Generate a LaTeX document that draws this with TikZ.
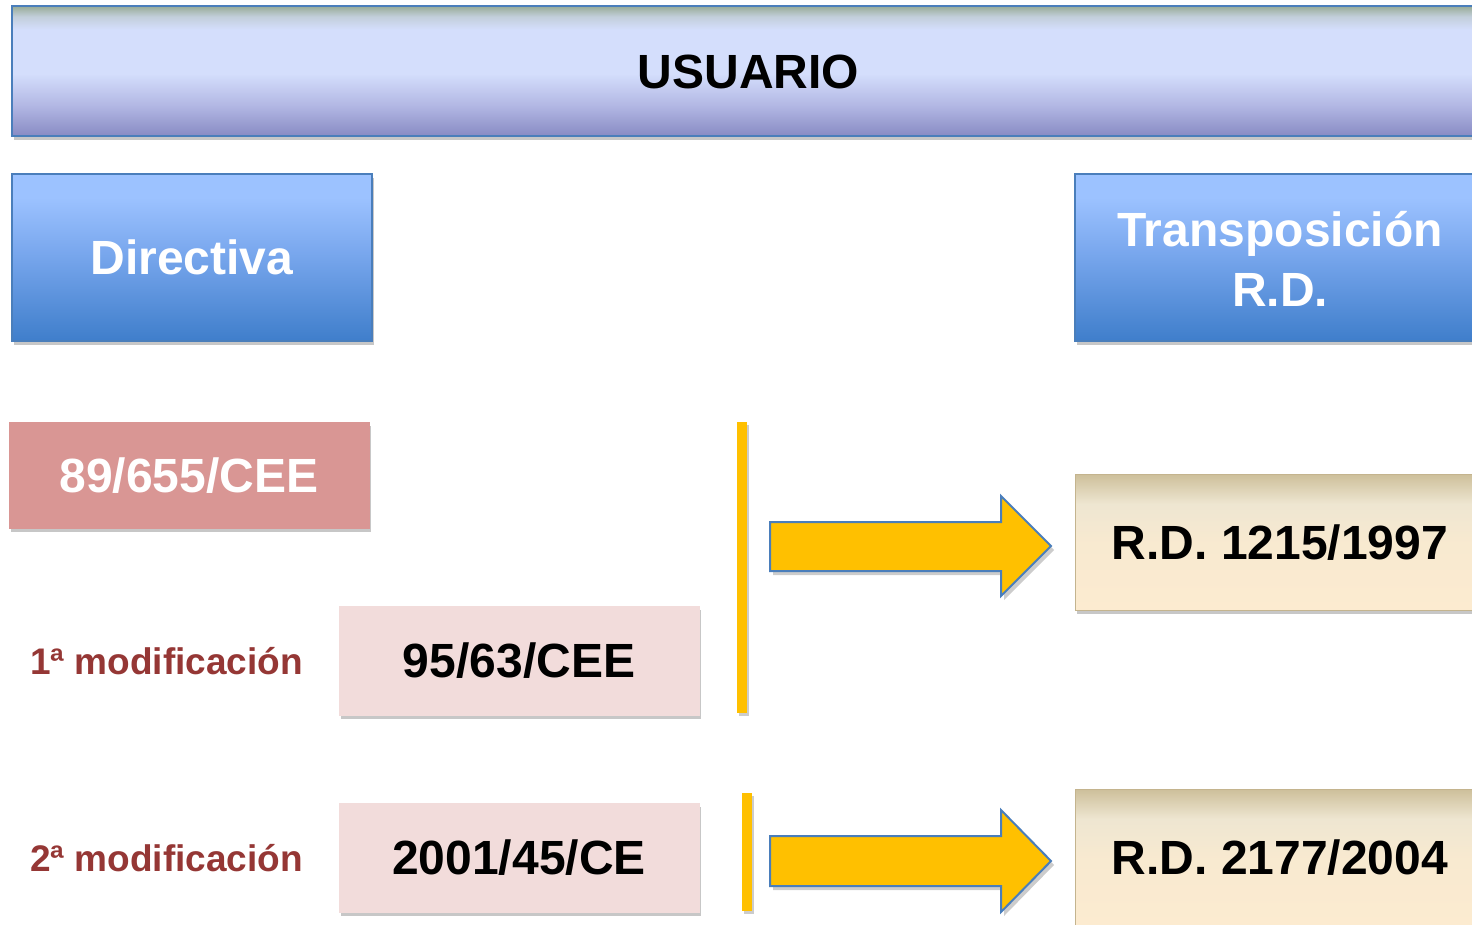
\documentclass[tikz,border=0pt]{standalone}
\usepackage{fontspec}
\setmainfont{Liberation Sans}
\usetikzlibrary{shadows}
\definecolor{bordblue}{HTML}{4A7EBB}
\definecolor{uBot}{HTML}{888BC4}
\definecolor{uMid}{HTML}{B3B8E4}
\definecolor{uLight}{HTML}{D4DEFC}
\definecolor{uGreen1}{HTML}{C2CEDA}
\definecolor{uGreen}{HTML}{97AB96}
\definecolor{bTop}{HTML}{9CC2FF}
\definecolor{bMid}{HTML}{7AA8EE}
\definecolor{bBot}{HTML}{3F7ECB}
\definecolor{rTop}{HTML}{CDBF9A}
\definecolor{rMid}{HTML}{EEE6D1}
\definecolor{rBot}{HTML}{FCEBD0}
\definecolor{rBord}{HTML}{C4B48E}
\definecolor{pinkA}{HTML}{D99694}
\definecolor{pinkB}{HTML}{F2DCDB}
\definecolor{labred}{HTML}{953735}
\definecolor{gold}{HTML}{FFC000}
\pgfdeclareverticalshading{usuarioshade}{100bp}{color(0bp)=(uBot); color(25bp)=(uBot); color(37bp)=(uMid); color(49bp)=(uLight); color(66bp)=(uLight); color(71bp)=(uGreen1); color(75bp)=(uGreen); color(100bp)=(uGreen)}
\pgfdeclareverticalshading{blueshade}{100bp}{color(0bp)=(bBot); color(25bp)=(bBot); color(52bp)=(bMid); color(68bp)=(bTop); color(75bp)=(bTop); color(100bp)=(bTop)}
\pgfdeclareverticalshading{rdshade}{100bp}{color(0bp)=(rBot); color(25bp)=(rBot); color(50bp)=(rBot!70!rMid); color(64bp)=(rMid); color(75bp)=(rTop); color(100bp)=(rTop)}
\newcommand{\bigtxt}{\fontsize{48}{57}\selectfont\bfseries}
\newcommand{\labtxt}{\fontsize{37}{44}\selectfont\bfseries}
\begin{document}
\begin{tikzpicture}[x=1pt,y=-1pt,
  shadowed/.style={drop shadow={shadow xshift=2pt,shadow yshift=-4pt,opacity=0.22,fill=black}},
  usuariobox/.style={shadowed,draw=bordblue,line width=1.5pt,shade,shading=usuarioshade,
    minimum width=1473pt,minimum height=130pt,inner sep=0pt,font=\bigtxt,text=black,
    text height=34.5pt,text depth=0pt},
  bluebox/.style={shadowed,draw=bordblue,line width=1.5pt,shade,shading=blueshade,
    minimum height=167pt,inner sep=0pt,font=\bigtxt,text=white,
    text height=34.5pt,text depth=0pt},
  bluetext/.style={font=\bigtxt,text=white,inner sep=0pt,text height=34.5pt,text depth=0pt},
  rdbox/.style={shadowed,draw=rBord,line width=1pt,shade,shading=rdshade,
    minimum width=410pt,minimum height=136pt,inner sep=0pt,font=\bigtxt,text=black,
    text height=34.5pt,text depth=0pt},
  dirbox/.style={shadowed,fill=#1,draw=#1,line width=0.5pt,minimum width=360pt,
    inner sep=0pt,font=\bigtxt,text height=34.5pt,text depth=0pt},
  modlabel/.style={font=\labtxt,text=labred,inner sep=0pt,text height=26.5pt,text depth=0pt},
  goldbar/.style={fill=gold,drop shadow={shadow xshift=2pt,shadow yshift=-3pt,opacity=0.2,fill=black}},
  blockarrow/.style={fill=gold,draw=bordblue,line width=2pt,line join=miter,
    drop shadow={shadow xshift=3pt,shadow yshift=-4pt,opacity=0.2,fill=black}}
]
\useasboundingbox (0,0) rectangle (1472,924);
\clip (0,0) rectangle (1472,924);
\fill[white] (0,0) rectangle (1472,924);

% top bar
\node[usuariobox] (usuario) at (748.5,71) {USUARIO};

% header boxes
\node[bluebox,minimum width=360pt] (directiva) at (192,257.5) {Directiva};
\node[bluebox,minimum width=410pt] (transp) at (1280,257.5) {};
\node[bluetext] (transp1) at (1280,229) {Transposición};
\node[bluetext] (transp2) at (1280,289.5) {R.D.};

% directive boxes
\node[dirbox=pinkA,minimum height=106pt,text=white] (d89) at (189,475) {89/655/CEE};
\node[dirbox=pinkB,minimum height=109pt,text=black] (d95) at (519,660.5) {95/63/CEE};
\node[dirbox=pinkB,minimum height=109pt,text=black] (d2001) at (519,857.5) {2001/45/CE};

% labels
\node[modlabel] (m1) at (166.5,661) {1ª modificación};
\node[modlabel] (m2) at (166.5,858) {2ª modificación};

% gold bars
\fill[goldbar] (737,422) rectangle (747,713);
\fill[goldbar] (742,793) rectangle (752,911);

% block arrows
\draw[blockarrow] (770,522) -- (1001,522) -- (1001,496) -- (1051,546) -- (1001,596) -- (1001,571) -- (770,571) -- cycle;
\draw[blockarrow] (770,836) -- (1001,836) -- (1001,810) -- (1051,861) -- (1001,912) -- (1001,886) -- (770,886) -- cycle;

% R.D. boxes
\node[rdbox] (rd1997) at (1280,542) {R.D. 1215/1997};
\node[rdbox] (rd2004) at (1280,857) {R.D. 2177/2004};
\end{tikzpicture}
\end{document}
